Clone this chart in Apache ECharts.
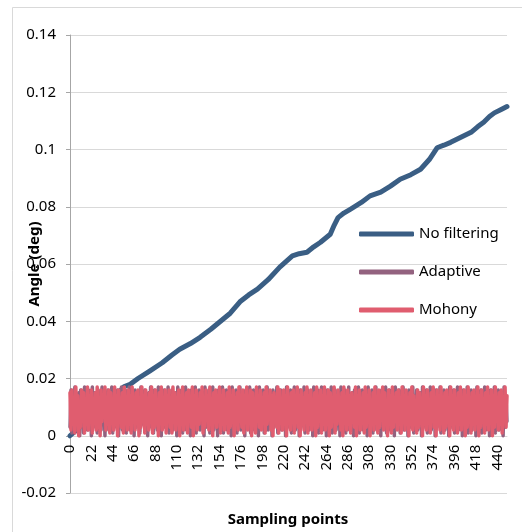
<!DOCTYPE html>
<html>
<head>
<meta charset="utf-8">
<script src="https://cdn.jsdelivr.net/npm/echarts@6/dist/echarts.min.js"></script>
<style>
  html, body { margin: 0; padding: 0; background: #fff; }
  #chart { width: 522px; height: 532px; }
</style>
</head>
<body>
<div id="chart"></div>
<script>
// y axis ticks
const yMin = -0.02
const yMax = 0.14
const yStep = 0.02
// x axis (sampling points), labels every 22
const xMax = 450
const xStep = 22

const seriesNames = ['No filtering', 'Adaptive', 'Mohony']

// No filtering: read at key sampling points
const noFilterX = [0, 10, 20, 30, 40, 50, 56, 62, 70, 82, 95, 105, 113, 124, 134, 145, 155, 165, 175, 184,
  193, 204, 216, 229, 236, 244, 251, 258, 268, 272, 276, 282, 289, 300, 309, 320, 330, 340, 351, 361,
  370, 378, 385, 392, 402, 413, 420, 426, 432, 437, 444, 450]
const noFilterY = [0.000, 0.003, 0.006, 0.009, 0.012, 0.015, 0.0172, 0.018, 0.0200, 0.0226, 0.0255, 0.0282, 0.0302, 0.0322, 0.0344, 0.0372, 0.0400, 0.0428, 0.0468, 0.0492,
  0.0512, 0.0545, 0.0589, 0.0628, 0.0636, 0.0641, 0.0660, 0.0676, 0.0704, 0.0735, 0.0762, 0.0778, 0.0792, 0.0815, 0.0838, 0.0851, 0.0872, 0.0896, 0.0912, 0.0931,
  0.0965, 0.1006, 0.1015, 0.1025, 0.1042, 0.1060, 0.1080, 0.1095, 0.1115, 0.1128, 0.1140, 0.1150]

// Adaptive: one value per sampling point 0..450
const adaptive = [
  0.003,0.016,0.001,0.014,0.006,0.017,0.002,0.012,0.005,0.015,0.000,0.016,0.004,0.013,0.001,0.017,0.007,0.014,0.002,0.016,
  0.005,0.012,0.000,0.017,0.003,0.015,0.006,0.013,0.001,0.016,0.004,0.014,0.002,0.017,0.008,0.012,0.000,0.015,0.005,0.016,
  0.002,0.013,0.006,0.017,0.001,0.015,0.004,0.012,0.003,0.016,0.000,0.014,0.007,0.017,0.002,0.013,0.005,0.016,0.001,0.015,
  0.004,0.017,0.002,0.012,0.006,0.014,0.000,0.016,0.003,0.015,0.005,0.013,0.001,0.017,0.004,0.012,0.007,0.016,0.002,0.014,
  0.000,0.015,0.005,0.017,0.003,0.013,0.001,0.016,0.006,0.014,0.002,0.017,0.004,0.012,0.000,0.015,0.005,0.016,0.003,0.013,
  0.007,0.017,0.001,0.014,0.004,0.016,0.002,0.012,0.005,0.015,0.000,0.017,0.003,0.013,0.006,0.016,0.001,0.014,0.004,0.017,
  0.002,0.012,0.005,0.015,0.000,0.016,0.003,0.013,0.007,0.017,0.001,0.014,0.004,0.016,0.002,0.012,0.006,0.015,0.000,0.017,
  0.003,0.013,0.005,0.016,0.001,0.014,0.004,0.017,0.002,0.012,0.006,0.015,0.000,0.016,0.003,0.013,0.005,0.017,0.001,0.014,
  0.004,0.016,0.002,0.012,0.007,0.015,0.000,0.017,0.003,0.013,0.005,0.016,0.001,0.014,0.004,0.017,0.002,0.012,0.006,0.015,
  0.000,0.016,0.003,0.013,0.005,0.017,0.001,0.014,0.004,0.016,0.002,0.012,0.006,0.015,0.000,0.017,0.003,0.013,0.005,0.016,
  0.001,0.014,0.004,0.017,0.002,0.012,0.006,0.015,0.000,0.016,0.003,0.013,0.007,0.017,0.001,0.014,0.004,0.016,0.002,0.012,
  0.005,0.015,0.000,0.017,0.003,0.013,0.006,0.016,0.001,0.014,0.004,0.017,0.002,0.012,0.005,0.015,0.000,0.016,0.003,0.013,
  0.007,0.017,0.001,0.014,0.004,0.016,0.002,0.012,0.005,0.015,0.000,0.017,0.003,0.013,0.006,0.016,0.001,0.014,0.004,0.017,
  0.002,0.012,0.005,0.015,0.000,0.016,0.003,0.013,0.008,0.017,0.001,0.014,0.004,0.016,0.002,0.012,0.006,0.015,0.000,0.017,
  0.003,0.013,0.005,0.016,0.001,0.014,0.004,0.017,0.002,0.012,0.006,0.015,0.000,0.016,0.003,0.013,0.005,0.017,0.001,0.014,
  0.004,0.016,0.002,0.012,0.007,0.015,0.000,0.017,0.003,0.013,0.005,0.016,0.001,0.014,0.004,0.017,0.002,0.012,0.006,0.015,
  0.000,0.016,0.003,0.013,0.005,0.017,0.001,0.014,0.004,0.016,0.002,0.012,0.006,0.015,0.000,0.017,0.003,0.013,0.005,0.016,
  0.001,0.014,0.004,0.017,0.002,0.012,0.006,0.015,0.000,0.016,0.003,0.013,0.007,0.017,0.001,0.014,0.004,0.016,0.002,0.012,
  0.005,0.015,0.000,0.017,0.003,0.013,0.006,0.016,0.001,0.014,0.004,0.017,0.002,0.012,0.005,0.015,0.000,0.016,0.003,0.013,
  0.006,0.017,0.001,0.014,0.004,0.016,0.002,0.012,0.005,0.015,0.000,0.017,0.003,0.013,0.007,0.016,0.001,0.014,0.004,0.017,
  0.002,0.012,0.005,0.015,0.000,0.016,0.003,0.013,0.006,0.017,0.001,0.014,0.004,0.016,0.002,0.012,0.005,0.015,0.000,0.017,
  0.003,0.013,0.005,0.016,0.001,0.014,0.004,0.017,0.002,0.012,0.006,0.015,0.000,0.016,0.003,0.013,0.005,0.017,0.001,0.014,
  0.004,0.016,0.002,0.012,0.006,0.015,0.000,0.017,0.003,0.013,0.005
]

// Mohony: one value per sampling point 0..450
const mohony = [
  0.015,0.002,0.016,0.004,0.013,0.001,0.017,0.006,0.014,0.000,0.012,0.003,0.016,0.008,0.015,0.001,0.011,0.004,0.017,0.002,
  0.014,0.005,0.016,0.001,0.013,0.007,0.015,0.002,0.017,0.003,0.012,0.000,0.016,0.005,0.014,0.009,0.017,0.002,0.013,0.004,
  0.016,0.001,0.015,0.006,0.012,0.002,0.017,0.004,0.014,0.000,0.016,0.007,0.013,0.003,0.015,0.001,0.017,0.005,0.011,0.002,
  0.016,0.004,0.014,0.001,0.017,0.006,0.013,0.002,0.015,0.008,0.016,0.000,0.012,0.003,0.017,0.005,0.014,0.001,0.016,0.004,
  0.013,0.002,0.015,0.007,0.017,0.001,0.014,0.003,0.016,0.005,0.012,0.000,0.015,0.006,0.017,0.002,0.013,0.004,0.016,0.001,
  0.014,0.008,0.016,0.003,0.012,0.001,0.017,0.005,0.015,0.002,0.013,0.006,0.016,0.000,0.014,0.004,0.017,0.002,0.011,0.005,
  0.015,0.001,0.016,0.007,0.013,0.003,0.017,0.000,0.014,0.005,0.016,0.002,0.012,0.004,0.015,0.008,0.017,0.001,0.013,0.003,
  0.016,0.006,0.014,0.002,0.017,0.004,0.012,0.000,0.015,0.005,0.016,0.003,0.013,0.007,0.017,0.001,0.014,0.004,0.016,0.002,
  0.012,0.005,0.015,0.001,0.017,0.003,0.014,0.006,0.016,0.000,0.013,0.004,0.015,0.002,0.017,0.007,0.011,0.003,0.016,0.001,
  0.014,0.005,0.017,0.002,0.013,0.008,0.016,0.000,0.015,0.004,0.012,0.001,0.017,0.006,0.014,0.003,0.016,0.002,0.013,0.005,
  0.015,0.001,0.017,0.004,0.012,0.006,0.016,0.002,0.014,0.000,0.015,0.007,0.013,0.003,0.017,0.001,0.016,0.005,0.012,0.002,
  0.016,0.004,0.014,0.000,0.017,0.006,0.013,0.002,0.015,0.005,0.016,0.001,0.012,0.008,0.017,0.003,0.014,0.000,0.016,0.004,
  0.013,0.002,0.015,0.006,0.017,0.001,0.014,0.004,0.016,0.002,0.011,0.005,0.015,0.000,0.017,0.003,0.013,0.007,0.016,0.001,
  0.014,0.004,0.017,0.002,0.012,0.005,0.016,0.000,0.015,0.003,0.013,0.006,0.017,0.001,0.014,0.004,0.016,0.008,0.012,0.002,
  0.015,0.000,0.017,0.005,0.013,0.002,0.016,0.004,0.014,0.001,0.015,0.007,0.012,0.003,0.017,0.000,0.014,0.005,0.016,0.002,
  0.013,0.006,0.015,0.001,0.017,0.003,0.014,0.005,0.016,0.000,0.012,0.004,0.015,0.002,0.017,0.006,0.013,0.001,0.016,0.003,
  0.014,0.007,0.017,0.002,0.015,0.004,0.012,0.000,0.016,0.005,0.014,0.001,0.017,0.003,0.013,0.006,0.015,0.002,0.016,0.004,
  0.012,0.001,0.017,0.005,0.014,0.002,0.016,0.007,0.013,0.000,0.015,0.004,0.017,0.002,0.014,0.005,0.011,0.001,0.016,0.003,
  0.015,0.006,0.013,0.000,0.017,0.004,0.014,0.002,0.016,0.005,0.012,0.001,0.015,0.008,0.017,0.003,0.013,0.000,0.016,0.004,
  0.014,0.002,0.017,0.006,0.012,0.001,0.015,0.003,0.016,0.005,0.013,0.000,0.017,0.004,0.014,0.002,0.016,0.007,0.012,0.001,
  0.015,0.004,0.017,0.002,0.013,0.005,0.016,0.000,0.014,0.003,0.017,0.006,0.012,0.001,0.015,0.004,0.016,0.002,0.013,0.005,
  0.017,0.000,0.014,0.003,0.016,0.006,0.012,0.001,0.015,0.004,0.017,0.002,0.013,0.005,0.016,0.000,0.014,0.003,0.017,0.006,
  0.012,0.002,0.015,0.004,0.016,0.001,0.013,0.005,0.017,0.003,0.014
]

const colors = ['#3A5E84', '#93627F', '#E05D6F']
const font = '"Noto Sans", "Open Sans", sans-serif'

const gridTop = 35
const gridBottom = 39
const chartHeight = 532

const chart = echarts.init(document.getElementById('chart'), null, { renderer: 'canvas' })

function lineSeries(name, data, color, width) {
  return {
    name: name,
    type: 'line',
    data: data,
    showSymbol: false,
    symbol: 'none',
    smooth: false,
    animation: false,
    lineStyle: { color: color, width: width, cap: 'round', join: 'round' },
    itemStyle: { color: color }
  }
}

// x axis sits on y = 0: lift it from the grid bottom by the height of (0 - yMin)
const plotHeight = chartHeight - gridTop - gridBottom
const xAxisLift = plotHeight * (0 - yMin) / (yMax - yMin)

chart.setOption({
  animation: false,
  backgroundColor: '#fff',
  textStyle: { fontFamily: font },
  graphic: [
    {
      type: 'rect',
      shape: { x: 12.5, y: 7.5, width: 600, height: 600 },
      style: { fill: 'none', stroke: '#D9D9D9', lineWidth: 1 },
      silent: true,
      z: -10
    },
    {
      type: 'text',
      x: 288,
      y: 520,
      style: {
        text: 'Sampling points',
        font: 'bold 15px ' + font,
        fill: '#000',
        textAlign: 'center',
        textVerticalAlign: 'middle'
      }
    }
  ],
  legend: {
    orient: 'vertical',
    left: 354,
    top: 219,
    icon: 'roundRect',
    itemWidth: 55,
    itemHeight: 5,
    itemGap: 18,
    itemStyle: { borderWidth: 0 },
    textStyle: { fontSize: 15, color: '#000', fontFamily: font, lineHeight: 20 },
    data: seriesNames
  },
  grid: {
    left: 70,
    right: 15,
    top: gridTop,
    bottom: gridBottom,
    containLabel: false,
    outerBoundsMode: 'none'
  },
  xAxis: {
    type: 'value',
    min: 0,
    max: xMax,
    interval: xStep,
    offset: -xAxisLift,
    axisLine: { show: true, onZero: false, lineStyle: { color: '#D9D9D9', width: 1 } },
    axisTick: { show: false },
    splitLine: { show: false },
    axisLabel: {
      rotate: 90,
      margin: 9,
      fontSize: 15,
      color: '#000',
      showMaxLabel: false,
      fontFamily: font
    }
  },
  yAxis: {
    type: 'value',
    min: yMin,
    max: yMax,
    interval: yStep,
    name: 'Angle (deg)',
    nameLocation: 'middle',
    nameGap: 28,
    nameMoveOverlap: false,
    nameTextStyle: { fontSize: 15, fontWeight: 'bold', color: '#000', fontFamily: font },
    axisLine: { show: true, onZero: false, lineStyle: { color: '#A6A6A6', width: 1 } },
    axisTick: { show: true, length: 4, lineStyle: { color: '#A6A6A6' } },
    splitLine: { show: true, lineStyle: { color: '#D9D9D9', width: 1 } },
    axisLabel: {
      fontSize: 15,
      color: '#000',
      margin: 14,
      fontFamily: font,
      formatter: function (v) { return String(Math.round(v * 100) / 100) }
    }
  },
  series: [
    lineSeries(seriesNames[0], noFilterX.map((x, i) => [x, noFilterY[i]]), colors[0], 5),
    lineSeries(seriesNames[1], adaptive.map((v, i) => [i, v]), colors[1], 3.5),
    lineSeries(seriesNames[2], mohony.map((v, i) => [i, v]), colors[2], 3.5)
  ]
})
</script>
</body>
</html>
